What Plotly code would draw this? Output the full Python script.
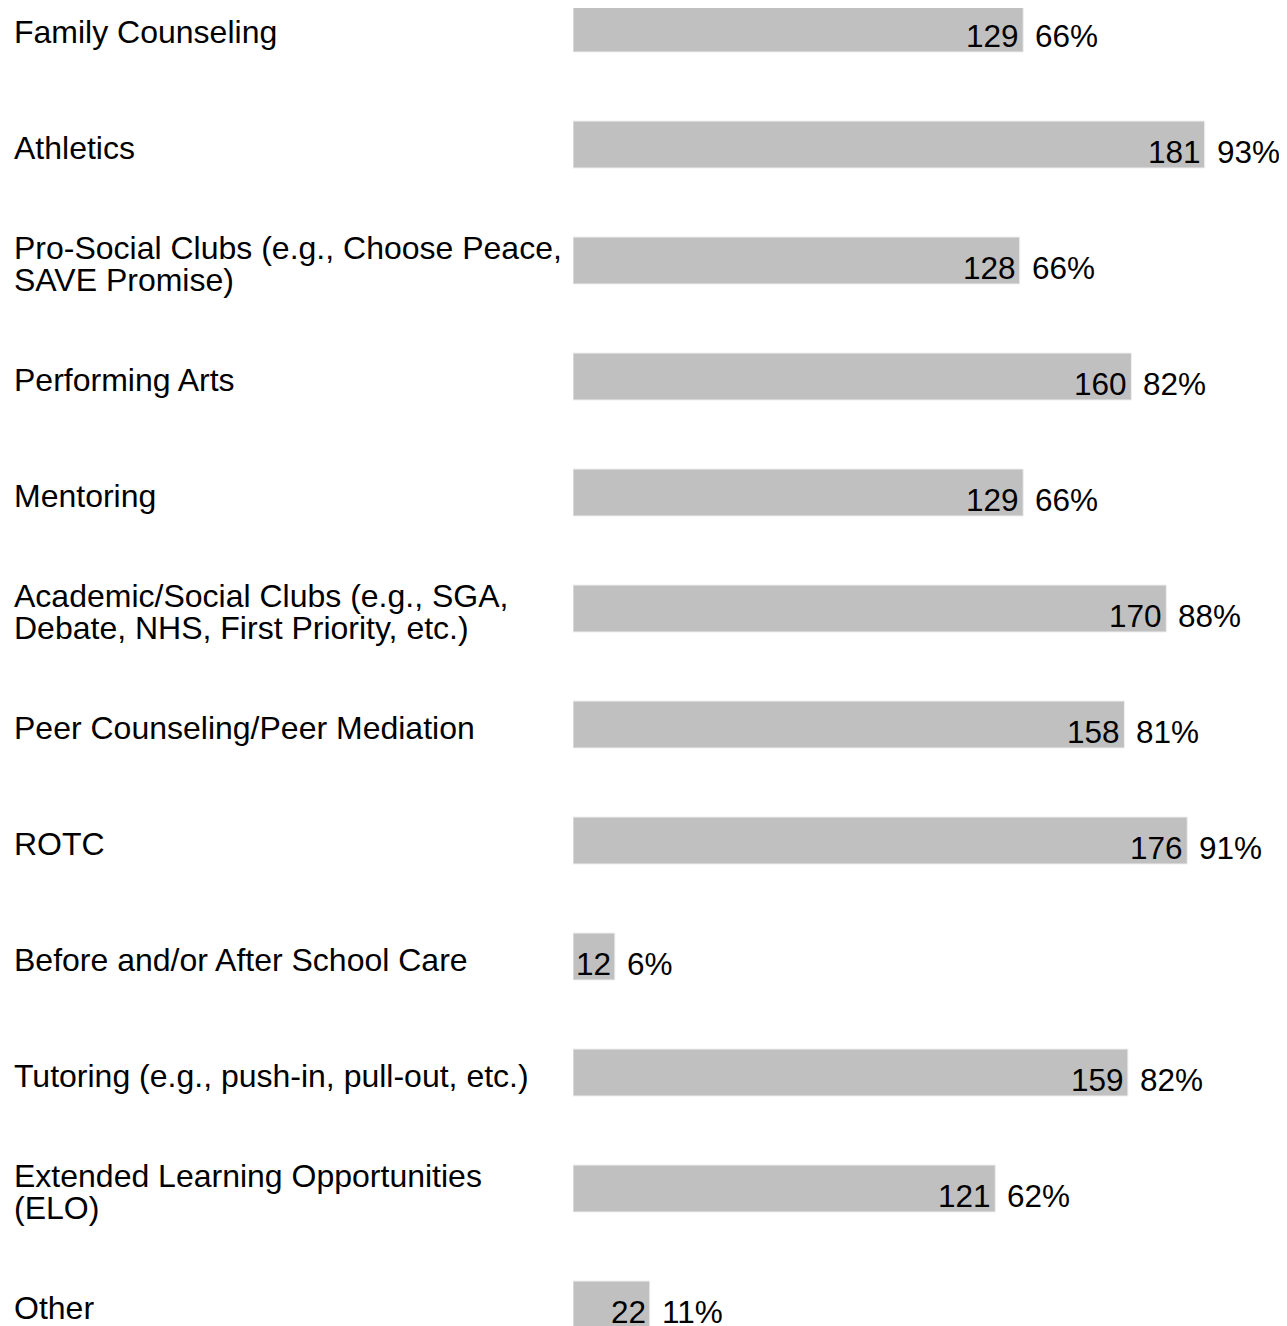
import plotly.graph_objects as go

categories = [
    "Family Counseling",
    "Athletics",
    "Pro-Social Clubs (e.g., Choose Peace,\nSAVE Promise)",
    "Performing Arts",
    "Mentoring",
    "Academic/Social Clubs (e.g., SGA,\nDebate, NHS, First Priority, etc.)",
    "Peer Counseling/Peer Mediation",
    "ROTC",
    "Before and/or After School Care",
    "Tutoring (e.g., push-in, pull-out, etc.)",
    "Extended Learning Opportunities\n(ELO)",
    "Other",
]
counts = [129, 181, 128, 160, 129, 170, 158, 176, 12, 159, 121, 22]
percents = ["66%", "93%", "66%", "82%", "66%", "88%", "81%", "91%", "6%", "82%", "62%", "11%"]

FONT = "Liberation Sans, Arial, sans-serif"
FS_LABEL = 32
FS = 31.5
W, H = 1279, 1318
L = 565
px_per_unit = 3.49
band = 116
first_center = 20.5
label_x = 4

keys = [c.replace("\n", " ") for c in categories]

fig = go.Figure()
fig.add_trace(go.Bar(
    x=counts, y=keys, orientation="h",
    marker=dict(color="#C0C0C0", line=dict(color="#EFEFEF", width=1)),
    hoverinfo="skip",
))

annotations = []
for key, label, v, p in zip(keys, categories, counts, percents):
    lines = label.split("\n")
    k = len(lines)
    for j, line in enumerate(lines):
        off = (j - (k - 1) / 2) * 32 + 3
        annotations.append(dict(
            xref="paper", yref="y", x=(label_x - L) / (W - L), y=key,
            xanchor="left", yanchor="middle", text=line, showarrow=False,
            yshift=-off, font=dict(family=FONT, size=FS_LABEL, color="#000000"),
        ))
    annotations.append(dict(
        xref="x", yref="y", x=v, y=key, xanchor="right", yanchor="middle",
        text=str(v), showarrow=False, xshift=-2, yshift=-7,
        font=dict(family=FONT, size=FS, color="#000000"),
    ))
    annotations.append(dict(
        xref="x", yref="y", x=v, y=key, xanchor="left", yanchor="middle",
        text=p, showarrow=False, xshift=10, yshift=-7,
        font=dict(family=FONT, size=FS, color="#000000"),
    ))

top = -first_center / band
bottom = (H - first_center) / band

fig.update_layout(
    width=W, height=H,
    margin=dict(l=L, r=0, t=0, b=0),
    paper_bgcolor="white", plot_bgcolor="white",
    showlegend=False,
    bargap=1 - 47 / band,
    annotations=annotations,
    font=dict(family=FONT, size=FS, color="#000000"),
    xaxis=dict(range=[0, (W - L) / px_per_unit], showgrid=False, zeroline=False,
               showticklabels=False, showline=False, fixedrange=True),
    yaxis=dict(type="category", categoryorder="array", categoryarray=keys,
               range=[bottom, top], showgrid=False, zeroline=False,
               showticklabels=False, showline=False, fixedrange=True),
)

fig.write_html("out.html", config={"displayModeBar": False})
